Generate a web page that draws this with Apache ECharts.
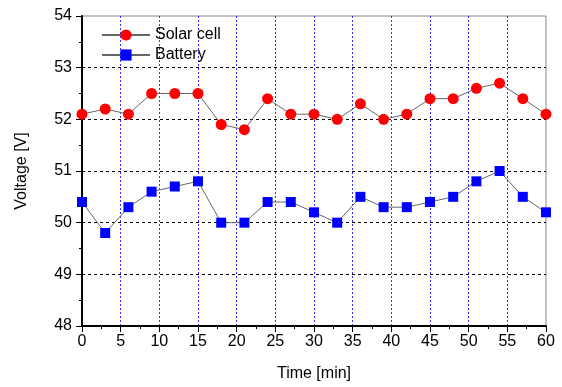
<!DOCTYPE html>
<html>
<head>
<meta charset="utf-8">
<script src="https://cdn.jsdelivr.net/npm/echarts@6/dist/echarts.min.js"></script>
<style>
  html, body { margin: 0; padding: 0; background: #fff; }
  #chart { width: 562px; height: 387px; }
</style>
</head>
<body>
<div id="chart"></div>
<script>
// time in minutes
const times = [0, 3, 6, 9, 12, 15, 18, 21, 24, 27, 30, 33, 36, 39, 42, 45, 48, 51, 54, 57, 60];
const solarCell = [52.1, 52.2, 52.1, 52.5, 52.5, 52.5, 51.9, 51.8, 52.4, 52.1, 52.1, 52.0, 52.3, 52.0, 52.1, 52.4, 52.4, 52.6, 52.7, 52.4, 52.1];
const battery = [50.4, 49.8, 50.3, 50.6, 50.7, 50.8, 50.0, 50.0, 50.4, 50.4, 50.2, 50.0, 50.5, 50.3, 50.3, 50.4, 50.5, 50.8, 51.0, 50.5, 50.2];

const font = "Liberation Sans, Arial, sans-serif";
const pairs = (ys) => times.map((t, i) => [t, ys[i]]);

let chart = echarts.init(document.getElementById("chart"));
let option = {
  animation: false,
  textStyle: { fontFamily: font },
  grid: {
    left: 82,
    right: 16,
    top: 16,
    bottom: 60,
    show: true,
    borderColor: "#888",
    borderWidth: 1
  },
  legend: {
    orient: "vertical",
    left: 96,
    top: 22,
    itemWidth: 48,
    itemHeight: 14,
    itemGap: 4,
    textStyle: { fontSize: 16, color: "#000", fontFamily: font },
    data: ["Solar cell", "Battery"]
  },
  xAxis: {
    type: "value",
    min: 0,
    max: 60,
    interval: 5,
    name: "Time [min]",
    nameLocation: "middle",
    nameGap: 40,
    nameTextStyle: { fontSize: 16, color: "#000" },
    axisLine: { lineStyle: { color: "#000", width: 2 } },
    axisTick: { length: 6, lineStyle: { color: "#000" } },
    minorTick: { show: true, splitNumber: 2, length: 3, lineStyle: { color: "#000" } },
    axisLabel: { fontSize: 16, color: "#000", margin: 8 },
    splitLine: {
      show: true,
      showMinLine: false,
      showMaxLine: false,
      lineStyle: { color: "#3333ff", type: [2, 2], width: 1 }
    }
  },
  yAxis: {
    type: "value",
    min: 48,
    max: 54,
    interval: 1,
    name: "Voltage [V]",
    nameLocation: "middle",
    nameGap: 52,
    nameTextStyle: { fontSize: 16, color: "#000" },
    axisLine: { show: true, lineStyle: { color: "#000", width: 2 } },
    axisTick: { show: true, length: 6, lineStyle: { color: "#000" } },
    minorTick: { show: true, splitNumber: 2, length: 3, lineStyle: { color: "#000" } },
    axisLabel: { fontSize: 16, color: "#000", margin: 10 },
    splitLine: {
      show: true,
      showMinLine: false,
      showMaxLine: false,
      lineStyle: { color: "#000", type: [3, 3], width: 1 }
    }
  },
  series: [
    {
      name: "Solar cell",
      type: "line",
      data: pairs(solarCell),
      symbol: "circle",
      symbolSize: 11,
      itemStyle: { color: "#ff0000" },
      lineStyle: { color: "#666", width: 1 }
    },
    {
      name: "Battery",
      type: "line",
      data: pairs(battery),
      symbol: "rect",
      symbolSize: 10,
      itemStyle: { color: "#0000ff" },
      lineStyle: { color: "#666", width: 1 }
    }
  ]
};
chart.setOption(option);
</script>
</body>
</html>
